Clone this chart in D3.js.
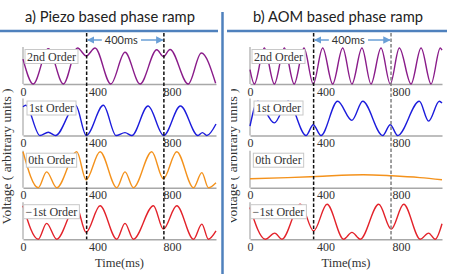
<!DOCTYPE html>
<html>
<head>
<meta charset="utf-8">
<script src="https://cdn.jsdelivr.net/npm/d3@7"></script>
<style>
  body { margin: 0; background: #fff; }
  svg { display: block; }
</style>
</head>
<body>
<div id="chart"></div>
<script>
  var orders = ['2nd Order', '1st Order', '0th Order', '\u22121st Order'];
  var tickLabels = [0, 400, 800];
  var panelTitles = ['a) Piezo based phase ramp', 'b) AOM based phase ramp'];
  var rampLabel = '400ms';
  var yLabel = 'Voltage ( arbitrary units )';
  var xLabel = 'Time(ms)';

  // dashed lines: start / end of the phase ramp (ms)
  var piezoRamp = [342, 757];
  var aomRamp = [337, 747];

  // turning points: [time ms, relative voltage]
  var piezo2nd = [[0, 0.69], [55, 0], [136, 0.98], [217, 0], [293, 1], [340, 0.78], [387, 1], [472, 0],
    [548, 0.88], [629, 0], [719, 0.95], [754, 0.76], [790, 0.96], [888, 0], [958, 0.86], [1035, 0.02]];
  var piezo1st = [[0, 0.8], [15, 0.84], [91, 0], [136, 0.09], [175, 0], [283, 0.84], [340, 0], [432, 0.84],
    [500, 0], [548, 0.08], [585, 0], [672, 0.82], [756, 0], [846, 0.82], [940, 0], [964, 0.08], [988, 0], [1037, 0.32]];
  var piezo0th = [[0, 1], [82, 0], [127, 0.44], [181, 0], [289, 1], [339, 0.22], [414, 1], [504, 0],
    [548, 0.44], [593, 0], [692, 1], [754, 0.25], [826, 1], [916, 0], [961, 0.42], [996, 0], [1037, 0.14]];
  var piezoM1 = [[0, 0.93], [82, 0], [127, 0.44], [181, 0], [285, 0.93], [339, 0.19], [414, 0.93], [504, 0],
    [548, 0.44], [593, 0], [701, 0.93], [754, 0.28], [826, 0.93], [916, 0], [961, 0.42], [996, 0], [1037, 0.23]];

  var aom2nd = [[0, 0.4], [23, 0], [76, 1], [129, 0], [182, 1], [234, 0], [286, 1], [335, 0], [385, 1],
    [438, 0], [491, 1], [540, 0], [593, 1], [641, 0], [694, 1], [743, 0], [791, 1], [853, 0], [906, 1],
    [959, 0], [1008, 1], [1017, 0.94]];
  var aom1st = [[0, 0.26], [42, 0.95], [129, 0.35], [201, 0.95], [297, 0], [335, 0.3], [376, 0], [464, 0.95],
    [540, 0.42], [597, 0.95], [703, 0], [743, 0.3], [782, 0], [897, 0.95], [946, 0.4], [1003, 0.95], [1017, 0.9]];
  var aom0th = [[0, 0.25], [200, 0.28], [350, 0.31], [600, 0.36], [750, 0.33], [900, 0.28], [1017, 0.22]];
  var aomM1 = [[0, 0.88], [81, 0], [131, 0.17], [169, 0], [267, 0.97], [337, 0.23], [408, 0.97], [496, 0],
    [540, 0.19], [584, 0], [682, 0.97], [748, 0.28], [814, 0.97], [902, 0], [946, 0.17], [981, 0], [1017, 0.43]];

  var W = 463, H = 274;
  var colors = ['#8a1c8a', '#1c1cdc', '#f4921c', '#e3222a'];
  var rowBase = [84, 135.5, 187.7, 239.2];
  var rowH = 36;
  var serif = '"Liberation Serif", "Times New Roman", serif';
  var sans = 'Lato, "Open Sans", sans-serif';
  var frameBlue = '#4f81bd';
  var arrowBlue = '#6a9fd6';

  var panels = [
    { range: [23, 216], domain: [0, 1037], series: [piezo2nd, piezo1st, piezo0th, piezoM1], ramp: piezoRamp,
      rampColors: ['#111', '#111'], title: panelTitles[0], titleX: 110, rule: [0, 218], yLabelX: 11 },
    { range: [250, 442], domain: [0, 1017], series: [aom2nd, aom1st, aom0th, aomM1], ramp: aomRamp,
      rampColors: ['#111', '#808080'], title: panelTitles[1], titleX: 338, rule: [227, 447], yLabelX: 236.5 }
  ];

  var svg = d3.select('#chart').append('svg')
    .attr('width', W).attr('height', H)
    .attr('viewBox', '0 0 ' + W + ' ' + H);

  var defs = svg.append('defs');
  defs.append('marker')
    .attr('id', 'arrow')
    .attr('viewBox', '0 0 10 10')
    .attr('refX', 9).attr('refY', 5)
    .attr('markerWidth', 5).attr('markerHeight', 5)
    .attr('orient', 'auto-start-reverse')
    .append('path')
    .attr('d', 'M0,0L10,5L0,10z')
    .attr('fill', arrowBlue);
  defs.append('clipPath').attr('id', 'rightClip')
    .append('rect').attr('x', 231).attr('y', 0).attr('width', 30).attr('height', H);

  function drawPanel(p, idx) {
    var g = svg.append('g');
    var x = d3.scaleLinear().domain(p.domain).range(p.range);

    // title and rule
    var t = g.append('text')
      .attr('x', p.titleX).attr('y', 22)
      .attr('text-anchor', 'middle')
      .style('font-family', sans).style('font-size', '16px').style('fill', '#222')
      .text(p.title);
    var tw = t.node().getComputedTextLength();
    if (tw > 170) t.attr('textLength', 170).attr('lengthAdjust', 'spacingAndGlyphs');

    g.append('line')
      .attr('x1', p.rule[0]).attr('x2', p.rule[1]).attr('y1', 31).attr('y2', 31)
      .attr('stroke', frameBlue).attr('stroke-width', 2.5);

    p.series.forEach(function (data, r) {
      var y = d3.scaleLinear().domain([0, 1]).range([rowBase[r], rowBase[r] - rowH]);

      var ax = g.append('g')
        .attr('transform', 'translate(0,' + rowBase[r] + ')')
        .call(d3.axisBottom(x).tickValues(tickLabels).tickSize(0).tickSizeOuter(0).tickPadding(3));
      ax.select('.domain').attr('stroke', '#a8a8a8').attr('stroke-width', 1.5);
      ax.selectAll('text')
        .style('font-family', serif).style('font-size', '12px').attr('fill', '#333');

      g.append('line')
        .attr('x1', p.range[0]).attr('x2', p.range[0])
        .attr('y1', rowBase[r]).attr('y2', rowBase[r] - rowH - 1)
        .attr('stroke', '#a8a8a8').attr('stroke-width', 1.2);

      g.append('path')
        .datum(data)
        .attr('fill', 'none')
        .attr('stroke', colors[r])
        .attr('stroke-width', 1.4)
        .attr('d', d3.line()
          .x(function (d) { return x(d[0]); })
          .y(function (d) { return y(d[1]); })
          .curve(d3.curveMonotoneX));

      // order label in a box
      var lg = g.append('g');
      var box = lg.append('rect');
      var lt = lg.append('text')
        .attr('x', p.range[0] + 28.5).attr('y', rowBase[r] - 23.5)
        .attr('text-anchor', 'middle')
        .style('font-family', serif).style('font-size', '12px').style('fill', '#333')
        .text(orders[r]);
      var bb = lt.node().getBBox();
      box.attr('x', bb.x - 2).attr('y', rowBase[r] - 34.5)
        .attr('width', bb.width + 4).attr('height', 14)
        .attr('fill', '#fff').attr('stroke', '#c8c8c8').attr('stroke-width', 1);
    });

    // ramp markers
    p.ramp.forEach(function (tm, i) {
      g.append('line')
        .attr('x1', x(tm)).attr('x2', x(tm))
        .attr('y1', 33).attr('y2', rowBase[3])
        .attr('stroke', p.rampColors[i]).attr('stroke-width', 1.5)
        .attr('stroke-dasharray', '3.5,2');
    });

    var xa = x(p.ramp[0]), xb = x(p.ramp[1]);
    var rl = g.append('text')
      .attr('x', (xa + xb) / 2 - 4).attr('y', 44)
      .attr('text-anchor', 'middle')
      .style('font-family', sans).style('font-size', '11px').style('fill', '#333')
      .text(rampLabel);
    var rb = rl.node().getBBox();
    g.append('line')
      .attr('x1', rb.x - 3).attr('x2', xa + 1).attr('y1', 40).attr('y2', 40)
      .attr('stroke', arrowBlue).attr('stroke-width', 1.5).attr('marker-end', 'url(#arrow)');
    g.append('line')
      .attr('x1', rb.x + rb.width + 3).attr('x2', xb - 1).attr('y1', 40).attr('y2', 40)
      .attr('stroke', arrowBlue).attr('stroke-width', 1.5).attr('marker-end', 'url(#arrow)');

    // axis titles
    var yl = g.append('text')
      .attr('transform', 'translate(' + p.yLabelX + ',156.5) rotate(-90)')
      .attr('text-anchor', 'middle')
      .style('font-family', serif).style('font-size', '13.5px').style('fill', '#333')
      .text(yLabel);
    if (idx === 1) yl.attr('clip-path', null);

    g.append('text')
      .attr('x', (p.range[0] + p.range[1]) / 2).attr('y', 267)
      .attr('text-anchor', 'middle')
      .style('font-family', serif).style('font-size', '12.5px').style('fill', '#333')
      .text(xLabel);

    return yl;
  }

  drawPanel(panels[0], 0);
  var rightYLabel = drawPanel(panels[1], 1);
  // the right panel's y title is cut off by the panel edge
  rightYLabel.remove();
  svg.append('g').attr('clip-path', 'url(#rightClip)')
    .append('text')
    .attr('transform', 'translate(' + panels[1].yLabelX + ',156.5) rotate(-90)')
    .attr('text-anchor', 'middle')
    .style('font-family', serif).style('font-size', '13.5px').style('fill', '#333')
    .text(yLabel);

  svg.append('line')
    .attr('x1', 222.5).attr('x2', 222.5).attr('y1', 12).attr('y2', H)
    .attr('stroke', frameBlue).attr('stroke-width', 2.5);
</script>
</body>
</html>
